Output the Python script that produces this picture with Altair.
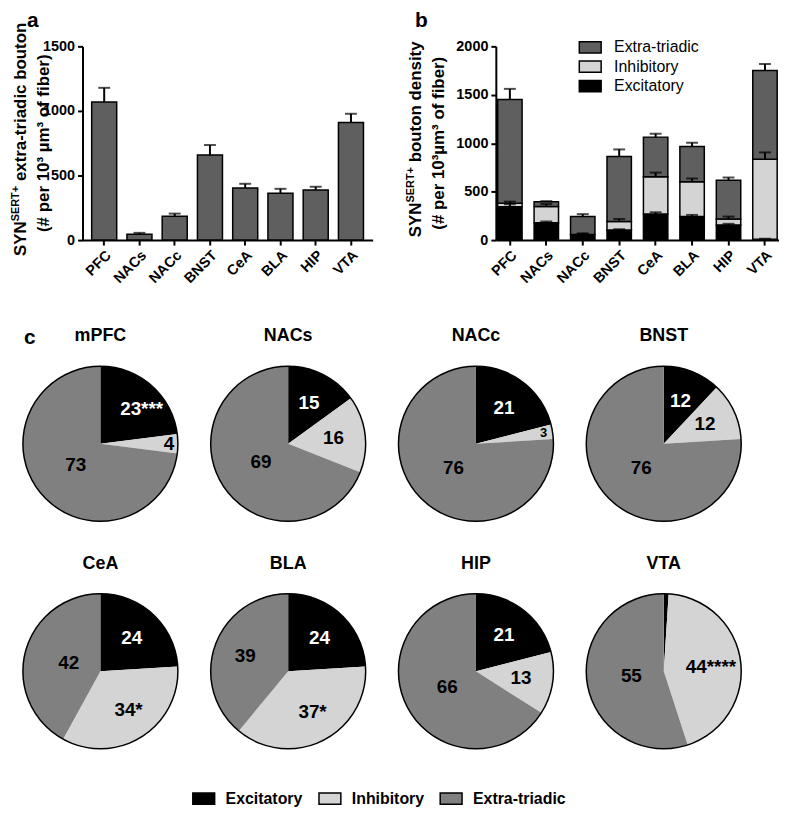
import altair as alt
import pandas as pd

FONT = "Liberation Sans"

# ---------------- data ----------------
regions = ["PFC", "NACs", "NACc", "BNST", "CeA", "BLA", "HIP", "VTA"]

# panel a: extra-triadic bouton density (mean and top of SEM bar)
a_mean = [1070, 46, 185, 659, 403, 362, 387, 910]
a_err = [1179, 56, 205, 736, 436, 397, 413, 978]

# panel b: stacked bouton density
components = ["Excitatory", "Inhibitory", "Extra-triadic"]
b_exc = [345, 178, 58, 104, 270, 243, 157, 10]
b_inh = [35, 168, 0, 88, 383, 359, 62, 825]
b_ext = [1071, 51, 185, 672, 410, 365, 399, 915]
b_exc_err = [370, 192, 70, 112, 287, 260, 168, 14]
b_inh_err = [397, 372, 62, 218, 697, 636, 243, 905]
b_ext_err = [1561, 402, 268, 936, 1098, 1005, 646, 1818]

# panel c: percentages
pie_regions = ["mPFC", "NACs", "NACc", "BNST", "CeA", "BLA", "HIP", "VTA"]
pie_exc = [23, 15, 21, 12, 24, 24, 21, 1]
pie_inh = [4, 16, 3, 12, 34, 37, 13, 44]
pie_ext = [73, 69, 76, 76, 42, 39, 66, 55]
pie_exc_sig = ["***", "", "", "", "", "", "", ""]
pie_inh_sig = ["", "", "", "", "*", "*", "", "****"]
pie_ext_sig = ["", "", "", "", "", "", "", ""]

# ---------------- tables ----------------
df_a = pd.DataFrame({"region": regions, "mean": a_mean, "err": a_err})

rows_b = []
for i, r in enumerate(regions):
    top = 0
    for k, (vals, errs) in enumerate([(b_exc, b_exc_err), (b_inh, b_inh_err), (b_ext, b_ext_err)]):
        top += vals[i]
        rows_b.append({"region": r, "comp": components[k], "ord": k,
                       "value": vals[i], "top": top, "err": errs[i]})
df_b = pd.DataFrame(rows_b)

rows_p = []
for i, r in enumerate(pie_regions):
    start = 0
    for k, (vals, sig) in enumerate([(pie_exc, pie_exc_sig), (pie_inh, pie_inh_sig), (pie_ext, pie_ext_sig)]):
        v = vals[i]
        rows_p.append({"region": r, "comp": components[k], "ord": k, "pct": v,
                       "start": start, "end": start + v, "mid": start + v / 2,
                       "sig": sig[i]})
        start += v
df_p = pd.DataFrame(rows_p)
one_a = pd.DataFrame({"panel": ["a"]})
one_b = pd.DataFrame({"panel": ["b"]})

# ---------------- styles ----------------
W_A, W_B, H = 292, 285, 195
DARK = "#5f5f5f"
LIGHT = "#d4d4d4"
PIE_EXT = "#808080"
RECT_PATH = "M-1.4,-0.72H1.4V0.72H-1.4Z"


def title_layers(one, x1, x2, rest, rest_w, line2, letter, lx):
    w_syn, w_sup, w_sp = 34.95, 35.76, 4.7
    total = w_syn + w_sup + w_sp + rest_w
    yc = H / 2 - 4
    y0 = yc + total / 2
    base = alt.Chart(one)
    common = dict(font=FONT, fontWeight="bold", angle=270, baseline="middle", color="black")
    l1 = base.mark_text(text="SYN", align="left", fontSize=17, **common).encode(
        x=alt.value(x1), y=alt.value(y0))
    l2 = base.mark_text(text="SERT+", align="left", fontSize=11, **common).encode(
        x=alt.value(x1 - 5), y=alt.value(y0 - w_syn))
    l3 = base.mark_text(text=rest, align="left", fontSize=17, **common).encode(
        x=alt.value(x1), y=alt.value(y0 - w_syn - w_sup - w_sp))
    l4 = base.mark_text(text=line2, align="center", fontSize=17, **common).encode(
        x=alt.value(x2), y=alt.value(H / 2))
    l5 = base.mark_text(text=letter, align="center", baseline="middle", fontSize=21,
                        font=FONT, fontWeight="bold", color="black").encode(
        x=alt.value(lx), y=alt.value(-25))
    return [l1, l2, l3, l4, l5]


def legend(**kw):
    return alt.Legend(title=None, orient="none", labelFont=FONT, labelFontSize=16,
                      labelColor="black", symbolType=RECT_PATH, symbolSize=247,
                      symbolStrokeColor="black", symbolStrokeWidth=1.5, symbolOpacity=1, **kw)


# ---------------- panel a ----------------
xa = alt.X("region:N", sort=regions, title=None,
           scale=alt.Scale(paddingInner=0.29, paddingOuter=0.26),
           axis=alt.Axis(labelAngle=-45))
ya = alt.Y("mean:Q", title=None, scale=alt.Scale(domain=[0, 1500], nice=False),
           axis=alt.Axis(values=[0, 500, 1000, 1500], format="d"))
bars_a = alt.Chart(df_a).mark_bar(color=DARK, stroke="black", strokeWidth=1.5).encode(x=xa, y=ya)
rule_a = alt.Chart(df_a).mark_rule(color="black", strokeWidth=2).encode(x=xa, y="mean:Q", y2="err:Q")
cap_a = alt.Chart(df_a).mark_tick(color="black", thickness=2, size=12).encode(x=xa, y="err:Q")
panel_a = alt.layer(
    bars_a, rule_a, cap_a,
    *title_layers(one_a, -62, -38.5, "extra-triadic bouton", 164.4 - 4.7,
                  "(# per 10³ µm³ of fiber)", "a", -50)
).properties(width=W_A, height=H)

# ---------------- panel b ----------------
xb = alt.X("region:N", sort=regions, title=None,
           scale=alt.Scale(paddingInner=0.33, paddingOuter=0.05),
           axis=alt.Axis(labelAngle=-45))
yb = alt.Y("value:Q", title=None, stack="zero", scale=alt.Scale(domain=[0, 2000], nice=False),
           axis=alt.Axis(values=[0, 500, 1000, 1500, 2000], format="d"))
bars_b = alt.Chart(df_b).mark_bar(stroke="black", strokeWidth=1.5).encode(
    x=xb, y=yb,
    color=alt.Color("comp:N",
                    scale=alt.Scale(domain=["Extra-triadic", "Inhibitory", "Excitatory"],
                                    range=[DARK, LIGHT, "black"]),
                    legend=legend(legendX=86, legendY=-8, direction="vertical",
                                  labelFontWeight="normal", rowPadding=1.5, labelOffset=15)),
    order=alt.Order("ord:Q"))
rule_b = alt.Chart(df_b).mark_rule(color="black", strokeWidth=2).encode(
    x=xb, y=alt.Y("top:Q"), y2="err:Q")
cap_b = alt.Chart(df_b).mark_tick(color="black", thickness=2, size=12).encode(x=xb, y="err:Q")
panel_b = alt.layer(
    bars_b, rule_b, cap_b,
    *title_layers(one_b, -80, -57, "bouton density", 126.6 - 4.7,
                  "(# per 10³µm³ of fiber)", "b", -75)
).properties(width=W_B, height=H)

top_row = alt.hconcat(panel_a, panel_b, spacing=497 - 86 - W_A + 5, bounds="flush").resolve_scale(
    color="independent")

# ---------------- panel c (pies) ----------------
CW, CH, STEP = 100, 229, 189
PCX, PCY, R = 18, 123, 78

pbase = alt.Chart().transform_calculate(
    lab="datum.pct >= 2 ? '' + datum.pct : ''",
    lr="datum.pct < 8 ? 69 : (datum.pct <= 40 ? 46 : 33)",
    fs="datum.pct < 4 ? 13 : 19",
    lc="datum.ord == 0 ? 'white' : 'black'",
)
tscale = alt.Scale(domain=[0, 100])
arcs = pbase.mark_arc(outerRadius=R).encode(
    theta=alt.Theta("start:Q", scale=tscale), theta2="end:Q",
    color=alt.Color("comp:N",
                    scale=alt.Scale(domain=components, range=["black", LIGHT, PIE_EXT]),
                    legend=legend(legendX=113, legendY=471, direction="horizontal",
                                  labelFontWeight="bold", columnPadding=12, labelOffset=13)),
    x=alt.value(PCX), y=alt.value(PCY))
outline = pbase.transform_filter("datum.ord == 0").mark_arc(
    outerRadius=R, fillOpacity=0, stroke="black", strokeWidth=1.5).encode(
    theta=alt.value(0), theta2=alt.value(6.2832), x=alt.value(PCX), y=alt.value(PCY))
labels = pbase.mark_text(font=FONT, fontWeight="bold", align="center", baseline="middle").encode(
    theta=alt.Theta("mid:Q", scale=tscale),
    radius=alt.Radius("lr:Q", scale=None),
    text="lab:N",
    color=alt.Color("lc:N", scale=None),
    size=alt.Size("fs:Q", scale=None),
    x=alt.value(PCX), y=alt.value(PCY))
stars = pbase.mark_text(font=FONT, fontWeight="bold", align="left", baseline="middle",
                        dx=10.5, fontSize=19).encode(
    theta=alt.Theta("mid:Q", scale=tscale),
    radius=alt.Radius("lr:Q", scale=None),
    text="sig:N",
    color=alt.Color("lc:N", scale=None),
    x=alt.value(PCX), y=alt.value(PCY))
titles = pbase.transform_filter("datum.ord == 0").mark_text(
    font=FONT, fontWeight="bold", fontSize=18, align="center", baseline="middle", color="black").encode(
    text="region:N", x=alt.value(PCX), y=alt.value(15))
cletter = pbase.transform_filter("datum.ord == 0 && datum.region == 'mPFC'").mark_text(
    text="c", font=FONT, fontWeight="bold", fontSize=21, align="center", baseline="middle",
    color="black").encode(x=alt.value(-53), y=alt.value(17))

pies = alt.layer(arcs, outline, labels, stars, titles, cletter, data=df_p).properties(
    width=CW, height=CH
).facet(
    facet=alt.Facet("region:N", sort=pie_regions, title=None,
                    header=alt.Header(labels=False, title=None, labelExpr="''",
                                      labelFontSize=1, labelPadding=0)),
    columns=4, spacing={"row": 0, "column": STEP - CW}, bounds="flush",
)

chart = alt.vconcat(top_row, pies, spacing=35).resolve_scale(color="independent").properties(
    padding={"left": 2, "top": 0, "right": 0, "bottom": 0}
).configure_view(stroke=None).configure_axis(
    domainColor="black", domainWidth=2, tickColor="black", tickWidth=2, tickSize=5,
    labelColor="black", labelFont=FONT, labelFontSize=14.5, labelFontWeight="bold",
    grid=False, labelPadding=3,
).configure_header(labels=False, labelFontSize=1, labelPadding=0)

chart.save("out.html", embed_options={"renderer": "svg", "actions": False})
